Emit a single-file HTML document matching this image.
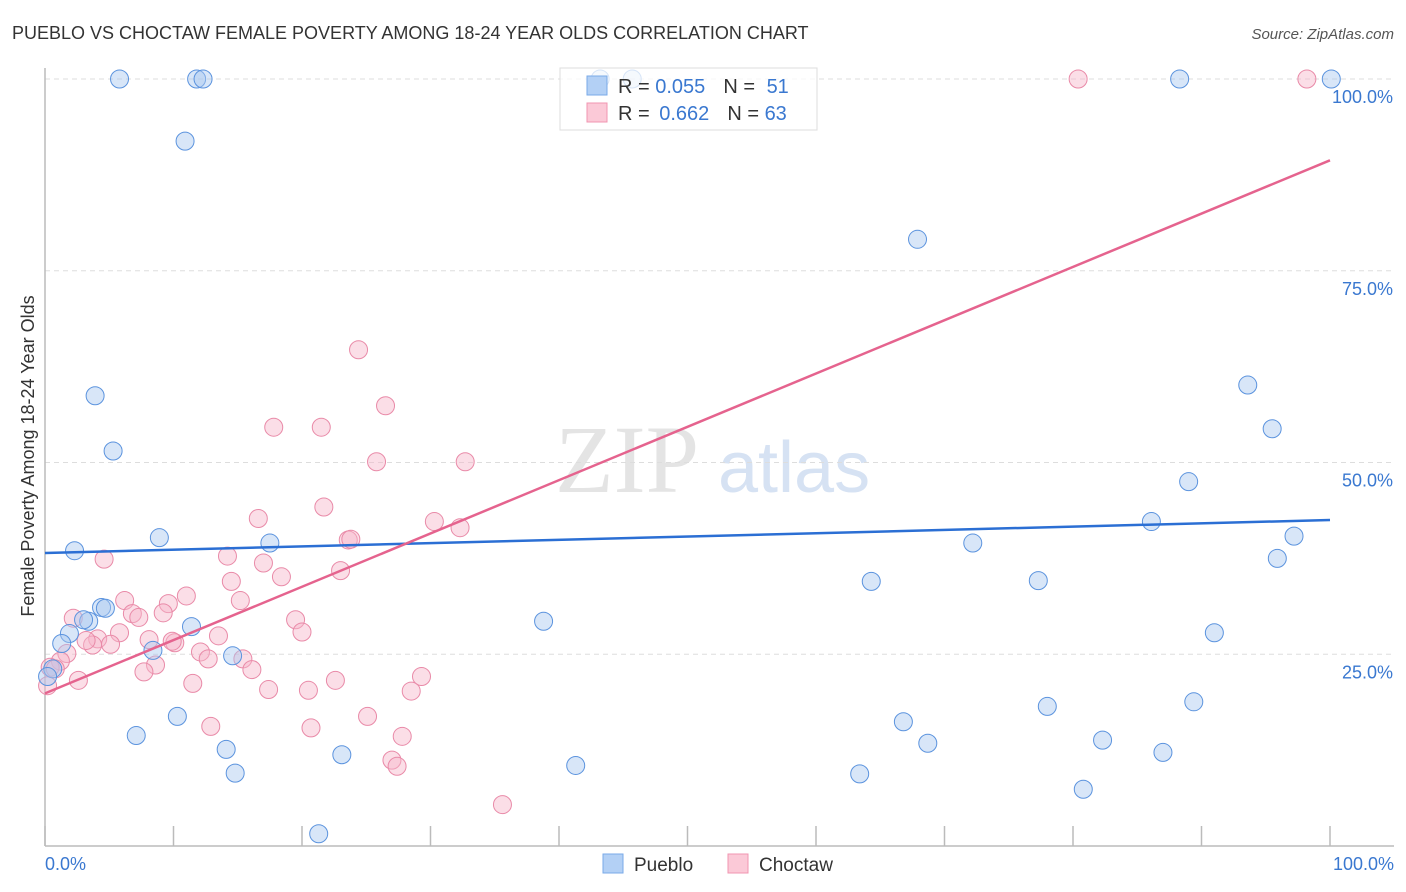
<!DOCTYPE html>
<html><head><meta charset="utf-8"><style>
body{margin:0;background:#fff;font-family:"Liberation Sans",sans-serif}
svg{display:block}
</style></head><body>
<svg id="c" width="1406" height="892">
<text x="12" y="39" font-size="18" fill="#333">PUEBLO VS CHOCTAW FEMALE POVERTY AMONG 18-24 YEAR OLDS CORRELATION CHART</text>
<text x="1394" y="39" font-size="15" fill="#555" font-style="italic" text-anchor="end">Source: ZipAtlas.com</text>
<text x="34" y="456" font-size="18" fill="#333" text-anchor="middle" transform="rotate(-90 34 456)">Female Poverty Among 18-24 Year Olds</text>
<g><text x="555" y="492" font-size="96" fill="#e4e4e4" font-family="Liberation Serif,serif">ZIP</text><text x="718" y="492" font-size="72" fill="#d6e2f3">atlas</text></g>
<g id="grid"></g><g id="axes"></g><g id="pts"></g><g id="lines"></g>
<g>
<rect x="560" y="68" width="257" height="62" fill="#fff" fill-opacity="0.75" stroke="#ddd"/>
<rect x="587" y="76" width="20" height="19" fill="#b3d0f5" stroke="#7aaae8"/>
<rect x="587" y="103" width="20" height="19" fill="#fbc9d7" stroke="#f095b0"/>
<text x="618" y="93" font-size="20" fill="#333">R = <tspan fill="#3a78d0">0.055</tspan><tspan dx="18">N = </tspan><tspan fill="#3a78d0" dx="6">51</tspan></text>
<text x="618" y="120" font-size="20" fill="#333">R = <tspan fill="#3a78d0" dx="4">0.662</tspan><tspan dx="18">N = </tspan><tspan fill="#3a78d0">63</tspan></text>
</g>
<g>
<rect x="603" y="854" width="20" height="19" fill="#b3d0f5" stroke="#7aaae8"/>
<text x="634" y="871" font-size="19" fill="#333">Pueblo</text>
<rect x="728" y="854" width="20" height="19" fill="#fbc9d7" stroke="#f095b0"/>
<text x="759" y="871" font-size="19" fill="#333">Choctaw</text>
</g>
</svg>
<script>
const yTicks=[25,50,75,100];
const yTickLabels=["25.0%","50.0%","75.0%","100.0%"];
const xTickVals=[0,10,20,30,40,50,60,70,80,90,100];
const puebloX=[5.8,11.8,12.3,43.2,45.7,88.3,100.1,10.9,67.9,3.9,5.3,8.9,2.3,17.5,93.6,95.5,89,86.1,72.2,97.2,95.9,64.3,77.3,4.4,4.7,3.4,3,1.9,1.3,38.8,11.4,8.4,14.6,91,0.6,0.2,10.3,7.1,14.1,14.8,23.1,41.3,66.8,68.7,63.4,78,89.4,82.3,87,80.8,21.3];
const puebloY=[100,100,100,100,100,100,100,91.9,79.1,58.7,51.5,40.2,38.5,39.5,60.1,54.4,47.5,42.3,39.5,40.4,37.5,34.5,34.6,31.1,31,29.3,29.5,27.7,26.4,29.3,28.6,25.5,24.8,27.8,23.1,22.1,16.9,14.4,12.6,9.5,11.9,10.5,16.2,13.4,9.4,18.2,18.8,13.8,12.2,7.4,1.6];
const choctawX=[80.4,98.2,24.4,26.5,17.8,21.5,25.8,32.7,16.6,21.7,30.3,32.3,23.6,23.8,4.6,14.2,17,18.4,14.5,23,6.2,11,15.2,9.6,9.2,6.8,7.3,2.2,19.5,20,13.5,5.8,8.1,4.1,10.1,3.7,5.1,3.2,1.7,12.1,12.7,15.4,9.9,1.2,0.4,8.6,16.1,7.7,11.5,2.6,17.4,20.5,22.6,29.3,28.5,25.1,12.9,20.7,27.8,27,27.4,35.6,0.2,0.8];
const choctawY=[100,100,64.7,57.4,54.6,54.6,50.1,50.1,42.7,44.2,42.3,41.5,39.9,40,37.4,37.8,36.9,35.1,34.5,35.9,32,32.6,32,31.6,30.4,30.3,29.8,29.7,29.5,27.9,27.4,27.8,26.9,27,26.5,26.2,26.3,26.8,25.1,25.3,24.4,24.4,26.7,24.1,23.3,23.6,23,22.7,21.2,21.6,20.4,20.3,21.6,22.1,20.2,16.9,15.6,15.4,14.3,11.2,10.4,5.4,20.9,23.1];
const puebloTrend=[38.2,42.5];
const choctawTrend=[19.9,89.4];
const X=v=>45+v*12.85, Y=v=>846-v*7.67;
const NS="http://www.w3.org/2000/svg";
function mk(t,a,p){const e=document.createElementNS(NS,t);for(const k in a)e.setAttribute(k,a[k]);p.appendChild(e);return e;}
const grid=document.getElementById('grid'),axes=document.getElementById('axes'),pts=document.getElementById('pts'),lines=document.getElementById('lines');
yTicks.forEach((t,i)=>{
 const l=mk('line',{x1:45,x2:1394,y1:Y(t),y2:Y(t),stroke:'#ddd','stroke-dasharray':'5,4'},grid);
 
 
 const tx=mk('text',{x:1393,y:Y(t)+24,'font-size':18,fill:'#3a78d0','text-anchor':'end'},axes);
 tx.textContent=yTickLabels[i];
 
 
});
const ya=mk('line',{x1:45,x2:45,y1:68,y2:846,stroke:'#bbb','stroke-width':1.5},axes);


const xa=mk('line',{x1:45,x2:1394,y1:846,y2:846,stroke:'#bbb','stroke-width':1.5},axes);


xTickVals.forEach(v=>{const t=mk('line',{x1:X(v),x2:X(v),y1:826,y2:846,stroke:'#bbb','stroke-width':1.5},axes);
 
 });
[[0,'0.0%',45,'start'],[100,'100.0%',1394,'end']].forEach(a=>{const t=mk('text',{x:a[2],y:870,'font-size':18,fill:'#3a78d0','text-anchor':a[3]},axes);t.textContent=a[1];
 
 });
function dots(xs,ys,fill,stroke,name){xs.forEach((x,i)=>{const c=mk('circle',{cx:X(x),cy:Y(ys[i]),r:9,fill:fill,'fill-opacity':0.45,stroke:stroke,'stroke-width':1},pts);
 
 });}
dots(choctawX,choctawY,'#f7b6c9','#e98aa8','choctaw-point');
dots(puebloX,puebloY,'#a9c8f0','#5b93de','pueblo-point');
const pl=mk('line',{x1:X(0),y1:Y(puebloTrend[0]),x2:X(100),y2:Y(puebloTrend[1]),stroke:'#2b6fd4','stroke-width':2.5},lines);


const cl=mk('line',{x1:X(0),y1:Y(choctawTrend[0]),x2:X(100),y2:Y(choctawTrend[1]),stroke:'#e5638e','stroke-width':2.5},lines);


</script>
</body></html>
